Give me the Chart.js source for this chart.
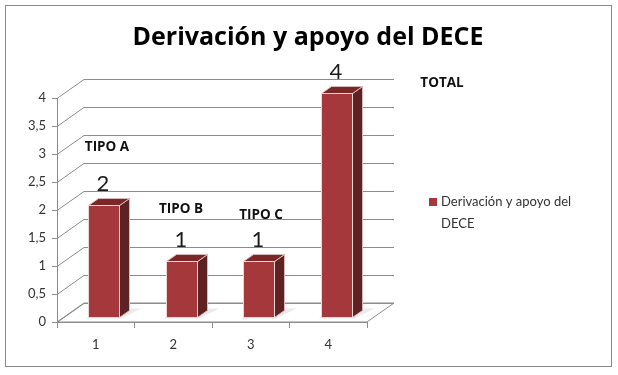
<!DOCTYPE html>
<html>
<head>
<meta charset="utf-8">
<script src="https://cdn.jsdelivr.net/npm/chart.js@4.4.1/dist/chart.umd.min.js"></script>
<style>
  html, body { margin: 0; padding: 0; background: #fff; }
  #wrap { width: 618px; height: 375px; position: relative; }
</style>
</head>
<body>
<div id="wrap"><canvas id="chart" width="618" height="375"></canvas></div>
<script>
// Chart data
const categories = ["1", "2", "3", "4"];
const seriesName = "Derivación y apoyo del DECE";
const seriesValues = [2, 1, 1, 4];
const tipoLabels = ["TIPO A", "TIPO B", "TIPO C", "TOTAL"];
const chartTitle = "Derivación y apoyo del DECE";

const FONT = "Lato, 'Open Sans', sans-serif";
const BOLD_FONT = "'Open Sans', sans-serif";

// Depth of the back wall and of each bar (pseudo 3D)
const WALL_DX = 27, WALL_DY = -19;
const BAR_OX = 8, BAR_OY = -5;
const BAR_DX = 10, BAR_DY = -7;

// Free text boxes next to each bar (offset from bar front centre / top face)
const tipoOffsets = [[3, -51], [-1, -45], [2, -39], [105, -3]];

const threeD = {
  id: "threeD",
  beforeDatasetsDraw(chart) {
    const ctx = chart.ctx;
    const { left, right, bottom } = chart.chartArea;
    const y = chart.scales.y;
    ctx.save();
    // floor
    ctx.beginPath();
    ctx.moveTo(left, bottom);
    ctx.lineTo(right, bottom);
    ctx.lineTo(right + WALL_DX, bottom + WALL_DY);
    ctx.lineTo(left + WALL_DX, bottom + WALL_DY);
    ctx.closePath();
    ctx.fillStyle = "#fff";
    ctx.fill();
    ctx.strokeStyle = "#8c8c8c";
    ctx.lineWidth = 1;
    ctx.stroke();
    // gridlines on side and back walls
    y.ticks.forEach(t => {
      const py = Math.round(y.getPixelForValue(t.value)) + 0.5;
      ctx.beginPath();
      ctx.moveTo(left, py);
      ctx.lineTo(left + WALL_DX, py + WALL_DY);
      ctx.lineTo(right + WALL_DX, py + WALL_DY);
      ctx.stroke();
    });
    ctx.restore();
  },
  beforeDatasetDraw() {
    return false;
  },
  afterDatasetsDraw(chart) {
    const ctx = chart.ctx;
    const meta = chart.getDatasetMeta(0);
    ctx.save();
    meta.data.forEach((el, i) => {
      const w = el.width;
      const x0 = Math.round(el.x - w / 2 + BAR_OX) + 0.5;
      const x1 = Math.round(el.x + w / 2 + BAR_OX) + 0.5;
      const top = Math.round(el.y + BAR_OY) + 0.5;
      const bot = Math.round(el.base + BAR_OY) + 0.5;

      // soft shadow on floor
      ctx.fillStyle = "rgba(0,0,0,0.08)";
      ctx.beginPath();
      ctx.moveTo(x0 - 3, bot + 1);
      ctx.lineTo(x1 + 2, bot + 1);
      ctx.lineTo(x1 + BAR_DX + 12, bot + BAR_DY - 2);
      ctx.lineTo(x0 + BAR_DX + 6, bot + BAR_DY - 2);
      ctx.closePath();
      ctx.fill();

      // side
      ctx.fillStyle = "#5f2222";
      ctx.beginPath();
      ctx.moveTo(x1, top);
      ctx.lineTo(x1 + BAR_DX, top + BAR_DY);
      ctx.lineTo(x1 + BAR_DX, bot + BAR_DY);
      ctx.lineTo(x1, bot);
      ctx.closePath();
      ctx.fill();
      ctx.strokeStyle = "#d9b9b9";
      ctx.lineWidth = 1;
      ctx.stroke();

      // top
      ctx.fillStyle = "#7a2727";
      ctx.beginPath();
      ctx.moveTo(x0, top);
      ctx.lineTo(x1, top);
      ctx.lineTo(x1 + BAR_DX, top + BAR_DY);
      ctx.lineTo(x0 + BAR_DX, top + BAR_DY);
      ctx.closePath();
      ctx.fill();
      ctx.stroke();

      // front
      ctx.fillStyle = chart.data.datasets[0].backgroundColor;
      ctx.fillRect(x0, top, x1 - x0, bot - top);
      ctx.strokeStyle = "#ecd6d6";
      ctx.strokeRect(x0, top, x1 - x0, bot - top);

      // value label
      const cx = (x0 + x1) / 2;
      const faceTop = top + BAR_DY;
      ctx.fillStyle = "#1c1c1c";
      ctx.font = "22px " + FONT;
      ctx.textAlign = "center";
      ctx.textBaseline = "middle";
      ctx.fillText(String(seriesValues[i]), cx - 1, faceTop - 15);

      // type label
      const off = tipoOffsets[i];
      ctx.font = "bold 13.5px " + BOLD_FONT;
      ctx.fillStyle = "#111";
      ctx.fillText(tipoLabels[i], cx + off[0], faceTop + off[1]);
    });
    ctx.restore();
  },
  afterDraw(chart) {
    const ctx = chart.ctx;
    ctx.save();
    // outer frame
    ctx.strokeStyle = "#8a8a8a";
    ctx.lineWidth = 1;
    ctx.strokeRect(5.5, 5.5, 606, 361);

    // title
    ctx.fillStyle = "#000";
    ctx.font = "bold 25px " + BOLD_FONT;
    ctx.textAlign = "center";
    ctx.textBaseline = "middle";
    ctx.fillText(chartTitle, 308, 38);

    // legend
    const ds = chart.data.datasets[0];
    ctx.fillStyle = ds.backgroundColor;
    ctx.fillRect(429, 198, 8, 8);
    ctx.fillStyle = "#333";
    ctx.font = "13px " + FONT;
    ctx.textAlign = "left";
    const words = ds.label.split(" ");
    let line = "", lines = [];
    words.forEach(wd => {
      const test = line ? line + " " + wd : wd;
      if (ctx.measureText(test).width > 160 && line) {
        lines.push(line);
        line = wd;
      } else {
        line = test;
      }
    });
    lines.push(line);
    lines.forEach((ln, k) => ctx.fillText(ln, 441, 202 + k * 22));
    ctx.restore();
  }
};

const ctx = document.getElementById("chart").getContext("2d");
new Chart(ctx, {
  type: "bar",
  data: {
    labels: categories,
    datasets: [{
      label: seriesName,
      data: seriesValues,
      backgroundColor: "#a5383b",
      categoryPercentage: 1,
      barPercentage: 0.4
    }]
  },
  options: {
    responsive: false,
    animation: false,
    layout: { padding: { left: 10, right: 251, top: 98, bottom: 20 } },
    plugins: {
      legend: { display: false },
      tooltip: { enabled: false },
      title: { display: false }
    },
    scales: {
      x: {
        afterFit: s => { s.height = 33; },
        grid: { offset: true, drawOnChartArea: false, tickLength: 6, color: "#8c8c8c" },
        border: { color: "#8c8c8c" },
        ticks: { color: "#333", font: { family: FONT, size: 13 }, padding: 9 }
      },
      y: {
        min: 0,
        max: 4,
        afterFit: s => { s.width = 47; },
        grid: { drawOnChartArea: false, tickLength: 5, color: "#8c8c8c" },
        border: { color: "#8c8c8c" },
        ticks: {
          stepSize: 0.5,
          color: "#333",
          padding: 6,
          font: { family: FONT, size: 13 },
          callback: v => String(v).replace(".", ",")
        }
      }
    }
  },
  plugins: [threeD]
});
</script>
</body>
</html>
